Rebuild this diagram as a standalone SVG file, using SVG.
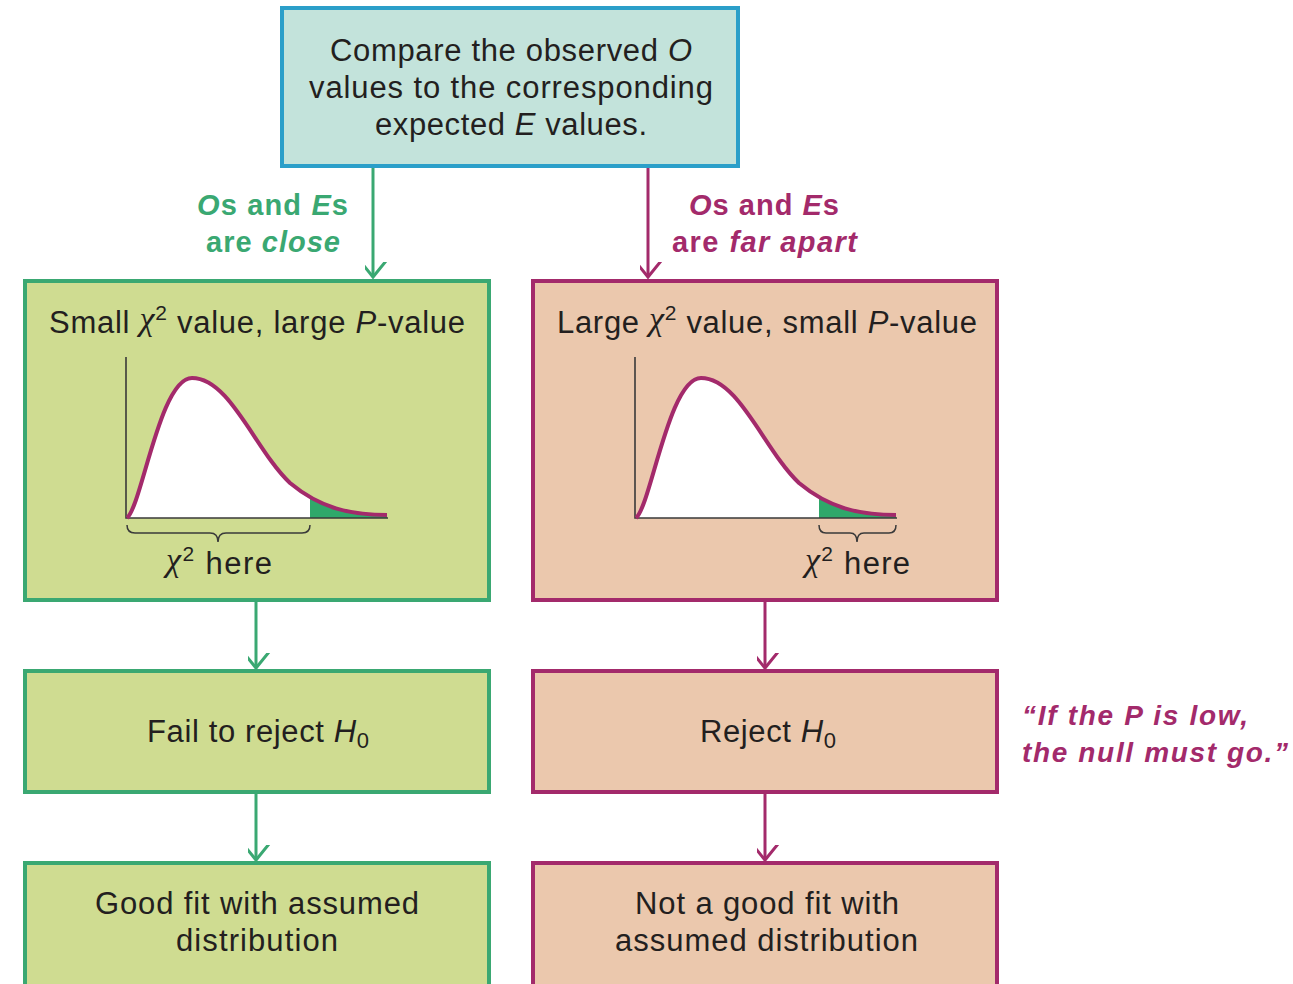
<svg xmlns="http://www.w3.org/2000/svg" width="1293" height="984" viewBox="0 0 1293 984">
<style>
.t{font-family:"Liberation Sans",Arial,sans-serif;font-size:31px;fill:#231f20;text-anchor:middle}
.lbl{font-family:"Liberation Sans",Arial,sans-serif;font-size:29px;font-weight:bold;text-anchor:middle}
.q{font-family:"Liberation Sans",Arial,sans-serif;font-size:28px;font-weight:bold;font-style:italic;fill:#a32a6b}
.g{fill:#3aa872}
.p{fill:#a32a6b}
.gbox{fill:#cfdc91;stroke:#3aa872;stroke-width:4}
.pbox{fill:#ebc8ad;stroke:#a32a6b;stroke-width:4}
.axis{fill:none;stroke:#3a3a3a;stroke-width:1.6}
.curve{fill:none;stroke:#a32a6b;stroke-width:4;stroke-linejoin:round}
.brace{fill:none;stroke:#3a3a3a;stroke-width:1.5}
.gl{stroke:#3aa872;stroke-width:3;fill:none}
.pl{stroke:#a32a6b;stroke-width:3;fill:none}
.chi{font-family:"Liberation Serif","Times New Roman",serif;font-style:italic;font-size:34px}
</style>
<defs>
<marker id="ag" markerUnits="userSpaceOnUse" markerWidth="30" markerHeight="30" viewBox="-15 -18 30 22" refX="0" refY="0" orient="auto-start-reverse">
<path d="M-13,-16 L0,0 L13,-16" fill="none" stroke="#3aa872" stroke-width="3" transform="rotate(-90)"/>
</marker>
<marker id="ap" markerUnits="userSpaceOnUse" markerWidth="30" markerHeight="30" viewBox="-15 -18 30 22" refX="0" refY="0" orient="auto-start-reverse">
<path d="M-13,-16 L0,0 L13,-16" fill="none" stroke="#a32a6b" stroke-width="3" transform="rotate(-90)"/>
</marker>
<path id="area" d="M127,518 C142,505 160,378 192,378 C230,378 255,450 290,483 C320,508 350,515 387,515 L387,518 Z"/>
<path id="crv" d="M127,518 C142,505 160,378 192,378 C230,378 255,450 290,483 C320,508 350,515 387,515"/>
<clipPath id="tail"><rect x="310" y="350" width="90" height="180"/></clipPath>
<g id="chart">
<use href="#area" fill="#ffffff"/>
<use href="#area" fill="#2fa86a" clip-path="url(#tail)"/>
<path class="axis" d="M126,357 L126,518 L388,518"/>
<use href="#crv" class="curve"/>
</g>
</defs>

<g id="connectors">
<line class="gl" x1="373" y1="168" x2="373" y2="277" marker-end="url(#ag)"/>
<line class="pl" x1="648" y1="168" x2="648" y2="277" marker-end="url(#ap)"/>
<line class="gl" x1="256" y1="602" x2="256" y2="668" marker-end="url(#ag)"/>
<line class="pl" x1="765" y1="602" x2="765" y2="668" marker-end="url(#ap)"/>
<line class="gl" x1="256" y1="794" x2="256" y2="860" marker-end="url(#ag)"/>
<line class="pl" x1="765" y1="794" x2="765" y2="860" marker-end="url(#ap)"/>
<text class="lbl g" x="272.5" y="215" textLength="151" lengthAdjust="spacing"><tspan font-style="italic">O</tspan>s and <tspan font-style="italic">E</tspan>s</text>
<text class="lbl g" x="273" y="252" textLength="134" lengthAdjust="spacing">are <tspan font-style="italic">close</tspan></text>
<text class="lbl p" x="764" y="215" textLength="150" lengthAdjust="spacing"><tspan font-style="italic">O</tspan>s and <tspan font-style="italic">E</tspan>s</text>
<text class="lbl p" x="764.5" y="252" textLength="185" lengthAdjust="spacing">are <tspan font-style="italic">far apart</tspan></text>
</g>

<g id="top">
<rect x="282" y="8" width="456" height="158" fill="#c3e3db" stroke="#2b9fc9" stroke-width="4"/>
<text class="t" x="511" y="61" textLength="362" lengthAdjust="spacing">Compare the observed <tspan font-style="italic">O</tspan></text>
<text class="t" x="511" y="98" textLength="404" lengthAdjust="spacing">values to the corresponding</text>
<text class="t" x="511" y="135" textLength="272" lengthAdjust="spacing">expected <tspan font-style="italic">E</tspan> values.</text>
</g>

<g id="small">
<rect class="gbox" x="25" y="281" width="464" height="319"/>
<text class="t" x="257" y="333" textLength="416" lengthAdjust="spacing">Small <tspan class="chi" dy="-3">χ</tspan><tspan font-size="21" dy="-10">2</tspan><tspan dy="13"> value, large </tspan><tspan font-style="italic">P</tspan>-value</text>
<use href="#chart"/>
<path class="brace" d="M127,525 Q127,533 135,533 L210,533 Q218,533 218,542 Q218,533 226,533 L302,533 Q310,533 310,525"/>
<text class="t" x="219" y="574" textLength="106" lengthAdjust="spacing"><tspan class="chi" dy="-3">χ</tspan><tspan font-size="21" dy="-10">2</tspan><tspan dy="13"> here</tspan></text>
</g>

<g id="large">
<rect class="pbox" x="533" y="281" width="464" height="319"/>
<text class="t" x="767" y="333" textLength="420" lengthAdjust="spacing">Large <tspan class="chi" dy="-3">χ</tspan><tspan font-size="21" dy="-10">2</tspan><tspan dy="13"> value, small </tspan><tspan font-style="italic">P</tspan>-value</text>
<use href="#chart" transform="translate(509,0)"/>
<path class="brace" d="M819,525 Q819,533 826,533 L850,533 Q857,533 857,542 Q857,533 864,533 L889,533 Q896,533 896,525"/>
<text class="t" x="857.5" y="574" textLength="105" lengthAdjust="spacing"><tspan class="chi" dy="-3">χ</tspan><tspan font-size="21" dy="-10">2</tspan><tspan dy="13"> here</tspan></text>
</g>

<g id="fail">
<rect class="gbox" x="25" y="671" width="464" height="121"/>
<text class="t" x="258" y="742" textLength="222" lengthAdjust="spacing">Fail to reject <tspan font-style="italic">H</tspan><tspan font-size="22" dy="6">0</tspan></text>
</g>

<g id="reject">
<rect class="pbox" x="533" y="671" width="464" height="121"/>
<text class="t" x="768" y="742" textLength="136" lengthAdjust="spacing">Reject <tspan font-style="italic">H</tspan><tspan font-size="22" dy="6">0</tspan></text>
</g>

<g id="goodfit">
<rect class="gbox" x="25" y="863" width="464" height="130"/>
<text class="t" x="257" y="914" textLength="324" lengthAdjust="spacing">Good fit with assumed</text>
<text class="t" x="257" y="951" textLength="162" lengthAdjust="spacing">distribution</text>
</g>

<g id="notgood">
<rect class="pbox" x="533" y="863" width="464" height="130"/>
<text class="t" x="767" y="914" textLength="264" lengthAdjust="spacing">Not a good fit with</text>
<text class="t" x="766.5" y="951" textLength="303" lengthAdjust="spacing">assumed distribution</text>
</g>

<g id="quote">
<text class="q" x="1022" y="725" textLength="226" lengthAdjust="spacing">“If the P is low,</text>
<text class="q" x="1022" y="762" textLength="266" lengthAdjust="spacing">the null must go.”</text>
</g>
</svg>
